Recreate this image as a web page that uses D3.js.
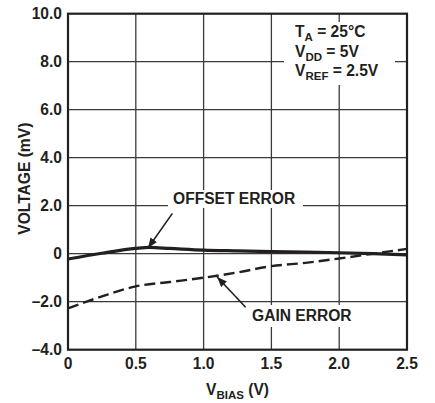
<!DOCTYPE html>
<html><head><meta charset="utf-8">
<script src="https://cdn.jsdelivr.net/npm/d3@7"></script>
<style>
html,body{margin:0;padding:0;background:#fff;}
text{font-family:"Liberation Sans",Arial,Helvetica,sans-serif;font-weight:bold;fill:#231f20;}
</style></head>
<body><svg id="c" width="435" height="403"></svg>
<script>
const xTicks = [0, 0.5, 1.0, 1.5, 2.0, 2.5];
const xTickLabels = ["0", "0.5", "1.0", "1.5", "2.0", "2.5"];
const yTicks = [-4, -2, 0, 2, 4, 6, 8, 10];
const yTickLabels = ["–4.0", "–2.0", "0", "2.0", "4.0", "6.0", "8.0", "10.0"];

const offsetX = [0, 0.25, 0.5, 0.6, 0.75, 1.0, 1.25, 1.5, 1.75, 2.0, 2.25, 2.5];
const offsetY = [-0.22, 0.02, 0.22, 0.26, 0.22, 0.15, 0.12, 0.09, 0.07, 0.04, 0.0, -0.05];
const gainX = [0, 0.25, 0.5, 0.75, 1.0, 1.25, 1.5, 1.75, 2.0, 2.25, 2.5];
const gainY = [-2.28, -1.78, -1.36, -1.18, -1.0, -0.78, -0.52, -0.38, -0.2, 0.0, 0.2];

const FS = 15.6, SUB = 11.5;
const svg = d3.select("#c");
const L = 68, R = 407, T = 13.7, B = 349.7;
const x = d3.scaleLinear().domain([0, 2.5]).range([L, R]);
const y = d3.scaleLinear().domain([-4, 10]).range([B, T]);

// grid
const g = svg.append("g");
g.selectAll(".vx").data(xTicks.slice(1, -1)).enter().append("line")
  .attr("x1", d => x(d)).attr("x2", d => x(d)).attr("y1", T).attr("y2", B)
  .attr("stroke", "#3a3a3a").attr("stroke-width", 1.3);
g.selectAll(".hy").data(yTicks.slice(1, -1)).enter().append("line")
  .attr("y1", d => y(d)).attr("y2", d => y(d)).attr("x1", L).attr("x2", R)
  .attr("stroke", "#3a3a3a").attr("stroke-width", 1.3);

// white boxes behind annotations
const boxes = [
  [284, 22, 111, 63],
  [168, 190, 135, 18],
  [247, 305, 111, 22]
];
svg.selectAll(".bx").data(boxes).enter().append("rect")
  .attr("x", d => d[0]).attr("y", d => d[1]).attr("width", d => d[2]).attr("height", d => d[3])
  .attr("fill", "#fff");

// frame
svg.append("rect").attr("x", L).attr("y", T).attr("width", R - L).attr("height", B - T)
  .attr("fill", "none").attr("stroke", "#231f20").attr("stroke-width", 2.2);

// curves
const line = d3.line().x(d => x(d[0])).y(d => y(d[1])).curve(d3.curveMonotoneX);
svg.append("path").datum(gainX.map((v, i) => [v, gainY[i]]))
  .attr("d", line).attr("fill", "none").attr("stroke", "#231f20")
  .attr("stroke-width", 2.4).attr("stroke-dasharray", "11,5");
svg.append("path").datum(offsetX.map((v, i) => [v, offsetY[i]]))
  .attr("d", line).attr("fill", "none").attr("stroke", "#231f20")
  .attr("stroke-width", 3.2);

// arrows
const defs = svg.append("defs");
defs.append("marker").attr("id", "ah").attr("viewBox", "0 0 10 8")
  .attr("refX", 10).attr("refY", 4).attr("markerWidth", 10).attr("markerHeight", 8)
  .attr("markerUnits", "userSpaceOnUse").attr("orient", "auto")
  .append("path").attr("d", "M0,0 L10,4 L0,8 Z").attr("fill", "#231f20");
const arrows = [
  [0.77, 1.68, 0.59, 0.24],
  [1.31, -2.23, 1.10, -0.97]
];
svg.selectAll(".ar").data(arrows).enter().append("line")
  .attr("x1", d => x(d[0])).attr("y1", d => y(d[1]))
  .attr("x2", d => x(d[2])).attr("y2", d => y(d[3]))
  .attr("stroke", "#231f20").attr("stroke-width", 1.6).attr("marker-end", "url(#ah)");

// annotation labels
svg.append("text").attr("x", 173).attr("y", 204).attr("font-size", FS).text("OFFSET ERROR");
svg.append("text").attr("x", 252).attr("y", 321).attr("font-size", FS).text("GAIN ERROR");

// legend
const leg = [["T", "A", " = 25°C"], ["V", "DD", " = 5V"], ["V", "REF", " = 2.5V"]];
leg.forEach((l, i) => {
  const t = svg.append("text").attr("x", 295).attr("y", 37 + i * 19.5).attr("font-size", FS);
  t.append("tspan").text(l[0]);
  t.append("tspan").attr("font-size", SUB).attr("dy", 4).text(l[1]);
  t.append("tspan").attr("dy", -4).text(l[2]);
});

// tick labels
svg.selectAll(".xl").data(xTicks).enter().append("text")
  .attr("x", d => x(d)).attr("y", 369).attr("text-anchor", "middle").attr("font-size", FS)
  .text((d, i) => xTickLabels[i]);
svg.selectAll(".yl").data(yTicks).enter().append("text")
  .attr("x", 62).attr("y", d => y(d) + 5.5).attr("text-anchor", "end").attr("font-size", FS)
  .text((d, i) => yTickLabels[i]);

// axis titles
const xt = svg.append("text").attr("x", x(1.25)).attr("y", 395).attr("text-anchor", "middle").attr("font-size", FS);
xt.append("tspan").text("V");
xt.append("tspan").attr("font-size", SUB).attr("dy", 4).text("BIAS");
xt.append("tspan").attr("dy", -4).text(" (V)");
svg.append("text").attr("transform", "translate(30," + ((T + B) / 2 - 3) + ") rotate(-90)")
  .attr("text-anchor", "middle").attr("font-size", FS).text("VOLTAGE (mV)");
</script></body></html>
